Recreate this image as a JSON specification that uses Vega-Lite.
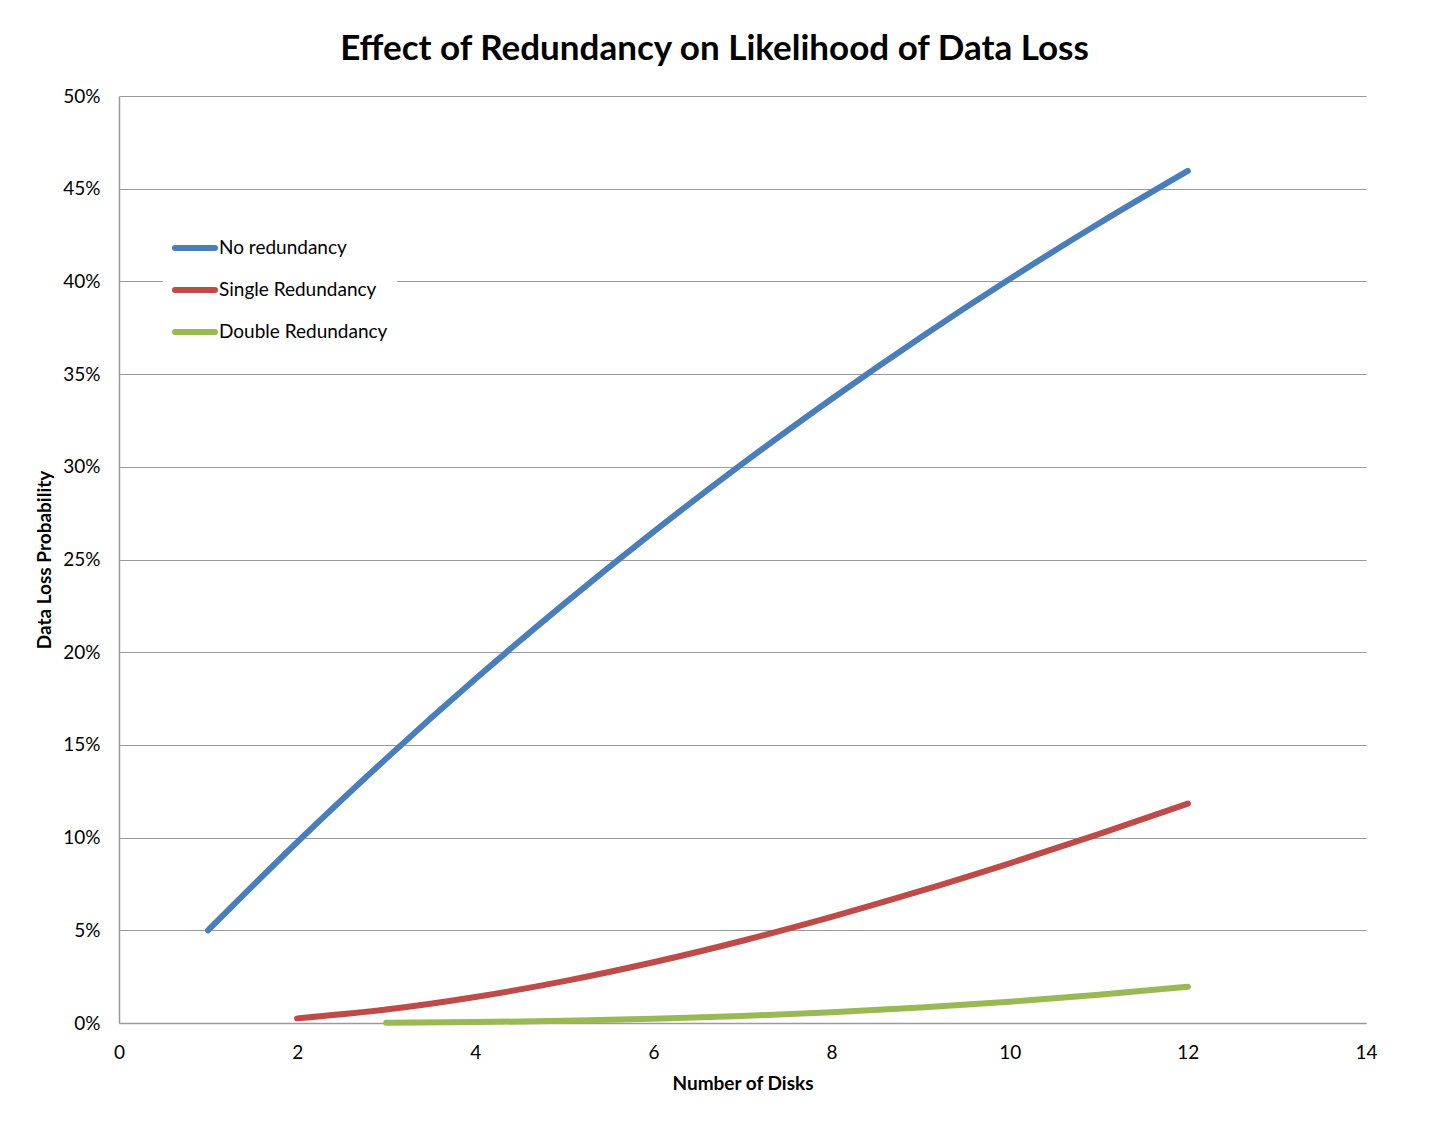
{
  "$schema": "https://vega.github.io/schema/vega-lite/v6.json",
  "width": 1247,
  "height": 927,
  "autosize": {"type": "none"},
  "padding": {"left": 119, "top": 96, "right": 64, "bottom": 102},
  "background": "white",
  "config": {
    "font": "Lato",
    "view": {"stroke": null},
    "axis": {
      "domainColor": "#9a9a9a",
      "domainWidth": 1.5,
      "gridColor": "#9a9a9a",
      "gridWidth": 1.2,
      "ticks": false,
      "labelFont": "Lato",
      "labelFontSize": 19,
      "labelColor": "black",
      "titleFont": "Lato",
      "titleFontSize": 19,
      "titleFontWeight": "bold",
      "titleColor": "black"
    }
  },
  "title": {
    "text": "Effect of Redundancy on Likelihood of Data Loss",
    "font": "Lato",
    "fontSize": 35,
    "fontWeight": "bold",
    "color": "black",
    "dx": -28,
    "offset": 20
  },
  "data": {
    "values": [
      {"disks": 1, "p": 0.05, "series": "No redundancy"},
      {"disks": 2, "p": 0.0975, "series": "No redundancy"},
      {"disks": 3, "p": 0.1426, "series": "No redundancy"},
      {"disks": 4, "p": 0.1855, "series": "No redundancy"},
      {"disks": 5, "p": 0.2262, "series": "No redundancy"},
      {"disks": 6, "p": 0.2649, "series": "No redundancy"},
      {"disks": 7, "p": 0.3017, "series": "No redundancy"},
      {"disks": 8, "p": 0.3366, "series": "No redundancy"},
      {"disks": 9, "p": 0.3698, "series": "No redundancy"},
      {"disks": 10, "p": 0.4013, "series": "No redundancy"},
      {"disks": 11, "p": 0.4312, "series": "No redundancy"},
      {"disks": 12, "p": 0.4596, "series": "No redundancy"},
      {"disks": 2, "p": 0.0025, "series": "Single Redundancy"},
      {"disks": 3, "p": 0.00725, "series": "Single Redundancy"},
      {"disks": 4, "p": 0.01402, "series": "Single Redundancy"},
      {"disks": 5, "p": 0.02259, "series": "Single Redundancy"},
      {"disks": 6, "p": 0.03277, "series": "Single Redundancy"},
      {"disks": 7, "p": 0.04438, "series": "Single Redundancy"},
      {"disks": 8, "p": 0.05725, "series": "Single Redundancy"},
      {"disks": 9, "p": 0.07121, "series": "Single Redundancy"},
      {"disks": 10, "p": 0.08614, "series": "Single Redundancy"},
      {"disks": 11, "p": 0.1019, "series": "Single Redundancy"},
      {"disks": 12, "p": 0.11836, "series": "Single Redundancy"},
      {"disks": 3, "p": 0.000125, "series": "Double Redundancy"},
      {"disks": 4, "p": 0.00048, "series": "Double Redundancy"},
      {"disks": 5, "p": 0.00116, "series": "Double Redundancy"},
      {"disks": 6, "p": 0.00223, "series": "Double Redundancy"},
      {"disks": 7, "p": 0.00376, "series": "Double Redundancy"},
      {"disks": 8, "p": 0.00579, "series": "Double Redundancy"},
      {"disks": 9, "p": 0.00836, "series": "Double Redundancy"},
      {"disks": 10, "p": 0.0115, "series": "Double Redundancy"},
      {"disks": 11, "p": 0.01524, "series": "Double Redundancy"},
      {"disks": 12, "p": 0.01957, "series": "Double Redundancy"}
    ]
  },
  "mark": {"type": "line", "strokeWidth": 6, "strokeCap": "round", "interpolate": "monotone"},
  "encoding": {
    "x": {
      "field": "disks",
      "type": "quantitative",
      "title": "Number of Disks",
      "scale": {"domain": [0, 14], "nice": false},
      "axis": {"values": [0, 2, 4, 6, 8, 10, 12, 14], "grid": false, "labelFlush": false, "labelPadding": 20, "titlePadding": 12}
    },
    "y": {
      "field": "p",
      "type": "quantitative",
      "title": "Data Loss Probability",
      "scale": {"domain": [0, 0.5], "nice": false},
      "axis": {
        "values": [0, 0.05, 0.1, 0.15, 0.2, 0.25, 0.3, 0.35, 0.4, 0.45, 0.5],
        "format": ".0%",
        "labelFlush": false,
        "labelPadding": 19,
        "titlePadding": 8
      }
    },
    "color": {
      "field": "series",
      "type": "nominal",
      "title": null,
      "scale": {
        "domain": ["No redundancy", "Single Redundancy", "Double Redundancy"],
        "range": ["#4a7ebb", "#be4b48", "#98b954"]
      },
      "legend": {
        "orient": "none",
        "legendX": 44,
        "legendY": 120,
        "fillColor": "white",
        "padding": 9,
        "symbolType": "stroke",
        "symbolSize": 1600,
        "symbolStrokeWidth": 6,
        "labelFont": "Lato",
        "labelFontSize": 19,
        "labelColor": "black",
        "labelLimit": 400,
        "labelOffset": 1,
        "rowPadding": 7,
        "encode": {"symbols": {"update": {"strokeCap": {"value": "round"}}}}
      }
    }
  }
}
